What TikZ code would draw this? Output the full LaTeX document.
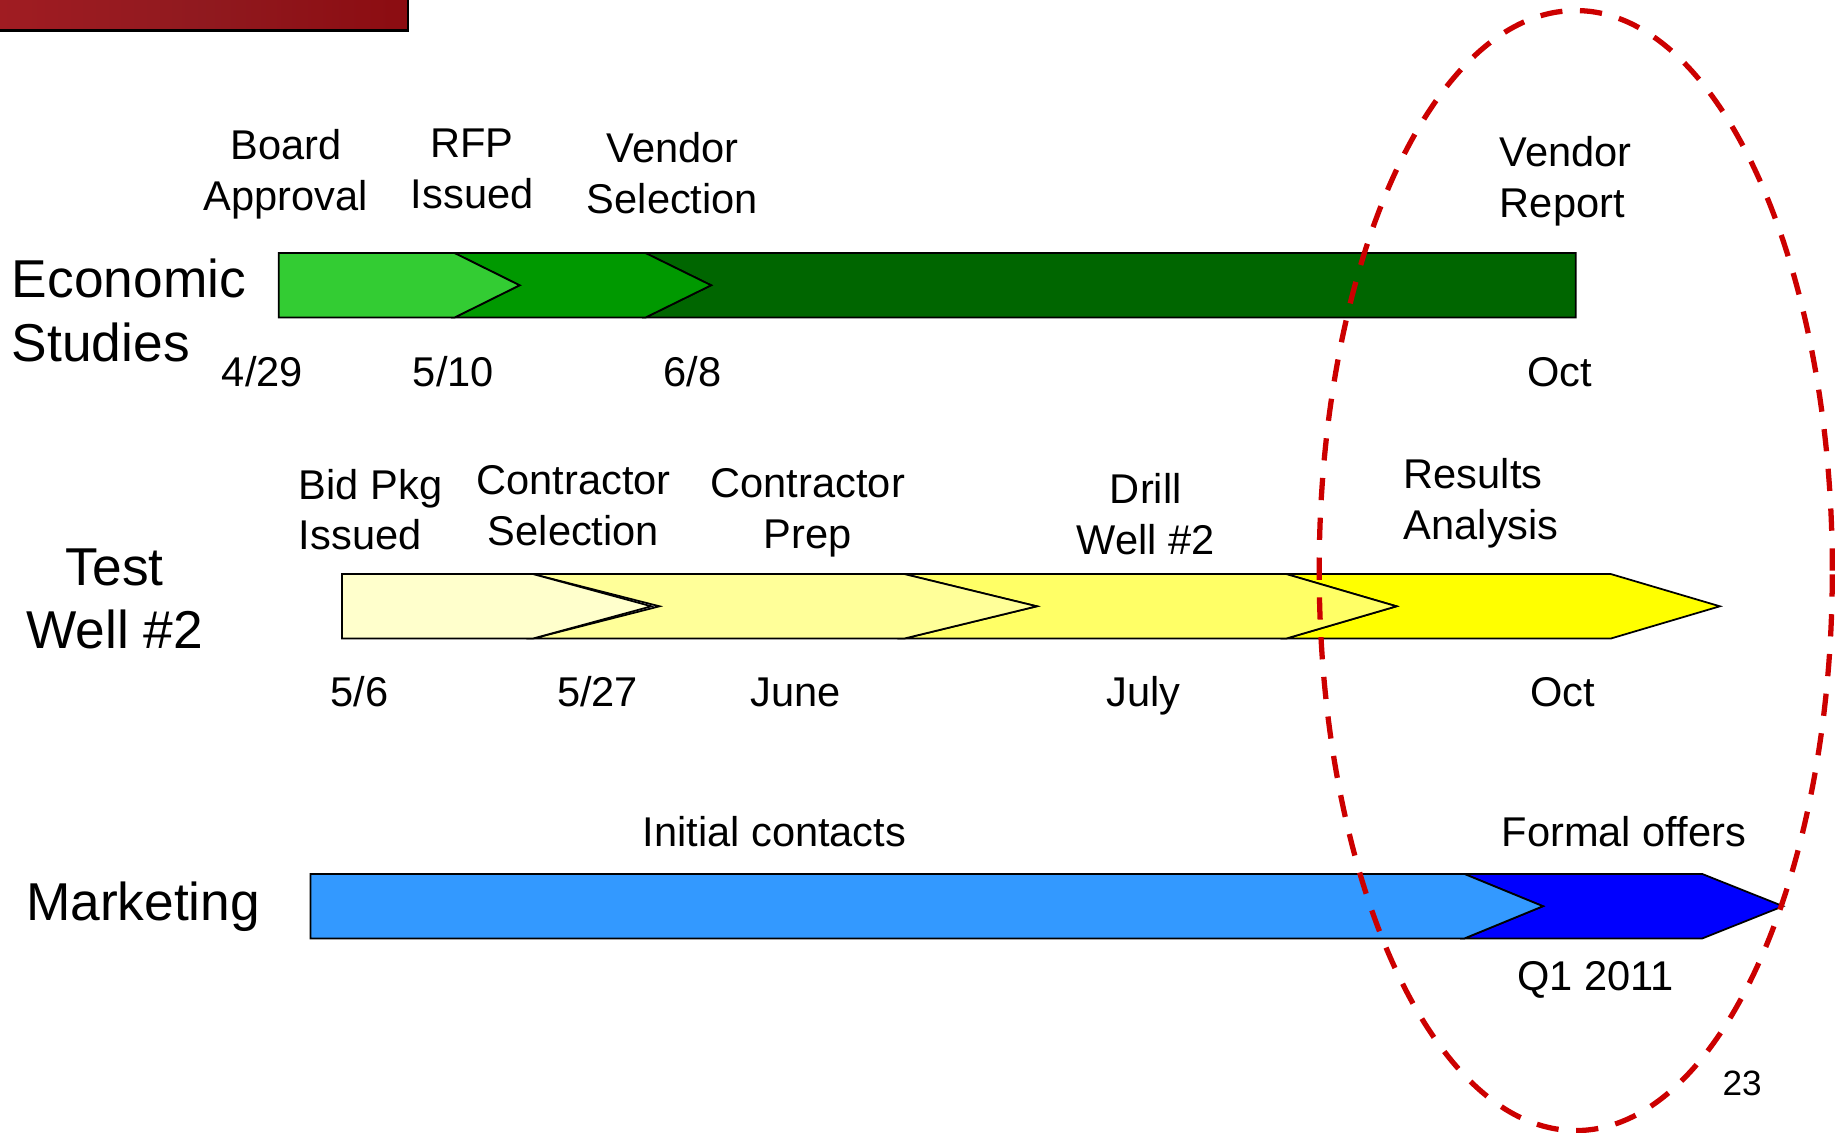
\documentclass[tikz,border=0pt]{standalone}
\usepackage{fontspec}
\setmainfont{Liberation Sans}
\definecolor{gA}{HTML}{33CC33}
\definecolor{gB}{HTML}{009900}
\definecolor{gC}{HTML}{006600}
\definecolor{yA}{HTML}{FFFFCC}
\definecolor{yB}{HTML}{FFFF99}
\definecolor{yC}{HTML}{FFFF66}
\definecolor{yD}{HTML}{FFFF00}
\definecolor{bA}{HTML}{3399FF}
\definecolor{bB}{HTML}{0000FF}
\definecolor{ringred}{HTML}{CC0000}
\definecolor{bannerA}{HTML}{A01C22}
\definecolor{bannerB}{HTML}{8C0C11}
\tikzset{
  seg/.style={draw=black, line width=1.5pt, line join=miter},
  lbl/.style={font=\fontsize{35.5}{43.5}\selectfont, inner sep=0pt, align=center, anchor=north},
  lbll/.style={font=\fontsize{35.5}{43.5}\selectfont, inner sep=0pt, align=left, anchor=north west},
  dt/.style={font=\fontsize{35.5}{42}\selectfont, inner sep=0pt, anchor=base},
  big/.style={font=\fontsize{45.5}{54}\selectfont, inner sep=0pt},
  ring/.style={draw=ringred, line width=4.5pt, dash pattern=on 19pt off 15pt}
}
\begin{document}
\begin{tikzpicture}[x=1pt,y=-1pt]
\useasboundingbox (0,0) rectangle (1568,967);
% banner
\shade[left color=bannerA, right color=bannerB, middle color=bannerA!90!black] (0,0) rectangle (348,26);
\draw[black, line width=2pt] (0,26) -- (348,26) -- (348,0);

% Economic Studies bar
\filldraw[seg, fill=gC] (551,216) -- (1345,216) -- (1345,271) -- (551,271) -- (607,243.5) -- cycle;
\filldraw[seg, fill=gB] (388,216) -- (551,216) -- (607,243.5) -- (551,271) -- (388,271) -- (443.5,243.5) -- cycle;
\filldraw[seg, fill=gA] (238,216) -- (388,216) -- (443.5,243.5) -- (388,271) -- (238,271) -- cycle;

% Test Well bar
\filldraw[seg, fill=yD] (1098,490) -- (1375,490) -- (1468,517.5) -- (1375,545) -- (1098,545) -- (1192,517.5) -- cycle;
\filldraw[seg, fill=yC] (772,490) -- (1098,490) -- (1192,517.5) -- (1098,545) -- (772,545) -- (885,517.5) -- cycle;
\filldraw[seg, fill=yB] (455,490) -- (772,490) -- (885,517.5) -- (772,545) -- (455,545) -- (563,517.5) -- cycle;
\filldraw[seg, fill=yA] (292,490) -- (455,490) -- (556,517.5) -- (455,545) -- (292,545) -- cycle;

% Marketing bar
\filldraw[seg, fill=bB] (1250,746) -- (1453,746) -- (1522,773.5) -- (1453,801) -- (1250,801) -- (1317,773.5) -- cycle;
\filldraw[seg, fill=bA] (265,746) -- (1250,746) -- (1317,773.5) -- (1250,801) -- (265,801) -- cycle;

% row titles
\node[big, align=left, anchor=north west] (econ) at (10,221) {Economic\\Studies};
\node[big, align=center, anchor=north] (test) at (98,468) {Test\\Well \#2};
\node[big, anchor=base west] (mkt) at (22,786) {Marketing};

% Economic labels
\node[lbl] (board) at (244,110) {Board\\Approval};
\node[lbl] (rfp) at (403,110) {RFP\\Issued};
\node[lbl] (vsel) at (574,113) {Vendor\\Selection};
\node[lbll] (vrep) at (1280,116) {Vendor\\Report};
\node[dt] (d1) at (224,330) {4/29};
\node[dt] (d2) at (387,330) {5/10};
\node[dt] (d3) at (591,330) {6/8};
\node[dt] (d4) at (1331,330) {Oct};

% Test well labels
\node[lbll] (bid) at (255,400) {Bid Pkg\\Issued};
\node[lbl] (csel) at (489.5,397) {Contractor\\Selection};
\node[lbl] (cprep) at (689.5,400) {Contractor\\Prep};
\node[lbl] (drill) at (978,404) {Drill\\Well \#2};
\node[lbll] (res) at (1198,391) {Results\\Analysis};
\node[dt] (t1) at (307,603) {5/6};
\node[dt] (t2) at (510,603) {5/27};
\node[dt] (t3) at (679,603) {June};
\node[dt] (t4) at (976,603) {July};
\node[dt] (t5) at (1334,603) {Oct};

% Marketing labels
\node[dt] (init) at (661,722.5) {Initial contacts};
\node[dt] (formal) at (1386,722.5) {Formal offers};
\node[dt] (q1) at (1362,845.5) {Q1 2011};

% page number
\node[font=\fontsize{30}{36}\selectfont, inner sep=0pt, anchor=base] (pg) at (1487,935) {23};

% highlight ring
\draw[ring] (1345,487) ellipse [x radius=219pt, y radius=478pt];
\end{tikzpicture}
\end{document}
